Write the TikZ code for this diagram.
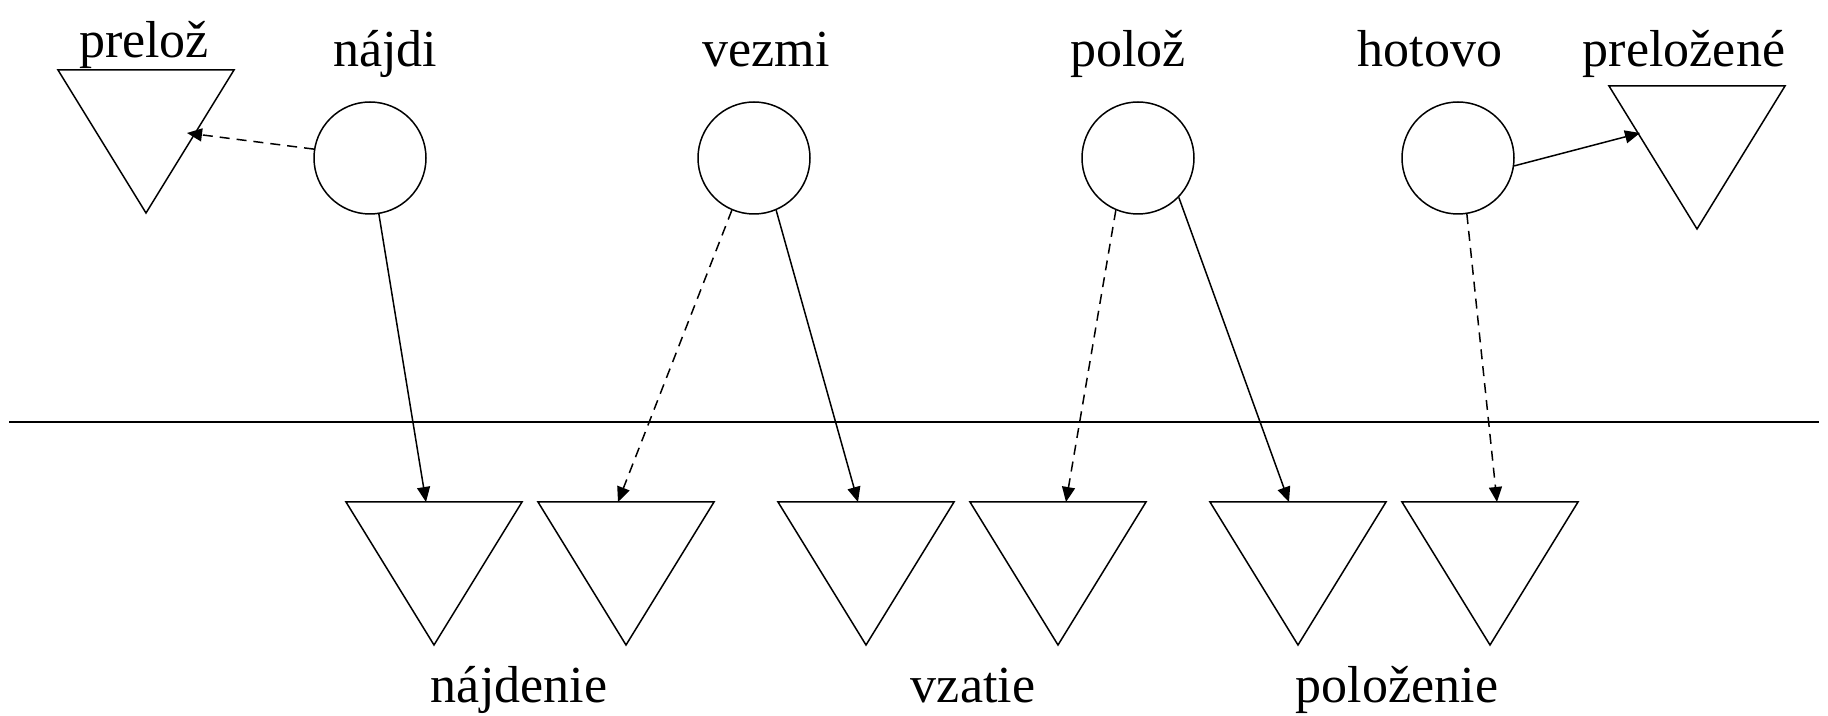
\documentclass[tikz,border=0pt]{standalone}
\usepackage{fontspec}
\setmainfont{Liberation Serif}
\usetikzlibrary{arrows.meta}
\tikzset{
  stnode/.style={circle, draw, line width=0.75pt, minimum size=56pt, inner sep=0pt},
  lbl/.style={anchor=base, inner sep=0pt, font=\fontsize{26}{30}\selectfont},
  tri/.style={draw, line width=0.75pt, line join=miter},
  arr/.style={line width=0.75pt, -{Triangle[length=7.5pt,width=6.5pt]}},
  dsh/.style={dash pattern=on 5pt off 3.5pt},
  invtri/.pic={\draw[tri] (-88,0) -- (88,0) -- (0,143) -- cycle; \coordinate (-top) at (0,0);}
}
\begin{document}
\begin{tikzpicture}[x=0.5pt,y=-0.5pt]
\useasboundingbox (0,0) rectangle (1828,716);
% circles
\node[stnode] (najdi) at (370,158) {};
\node[stnode] (vezmi) at (754,158) {};
\node[stnode] (poloz) at (1138,158) {};
\node[stnode] (hotovo) at (1458,158) {};
% top labels
\node[lbl] (lpreloz) at (144,58) {prelož};
\node[lbl] (lnajdi) at (385,67) {nájdi};
\node[lbl] (lvezmi) at (766,67) {vezmi};
\node[lbl] (lpoloz) at (1128,67) {polož};
\node[lbl] (lhotovo) at (1430,67) {hotovo};
\node[lbl] (lprelozene) at (1684,67) {preložené};
% triangles
\pic (preloz) at (146,70) {invtri};
\pic (prelozene) at (1697,86) {invtri};
\pic (t1) at (434,502) {invtri};
\pic (t2) at (626,502) {invtri};
\pic (t3) at (866,502) {invtri};
\pic (t4) at (1058,502) {invtri};
\pic (t5) at (1298,502) {invtri};
\pic (t6) at (1490,502) {invtri};
% separator line
\coordinate (lineL) at (9,422);
\coordinate (lineR) at (1819,422);
\draw[line width=0.75pt] (lineL) -- (lineR);
% bottom labels
\node[lbl] (lnajdenie) at (519,703) {nájdenie};
\node[lbl] (lvzatie) at (973,703) {vzatie};
\node[lbl] (lpolozenie) at (1397,703) {položenie};
% arrow end points
\coordinate (prelozin) at (187,133);
\coordinate (prelozenein) at (1640,133);
\coordinate (t1in) at (426,502);
\coordinate (t2in) at (618,502);
\coordinate (t3in) at (858,502);
\coordinate (t4in) at (1066,502);
\coordinate (t5in) at (1289,502);
\coordinate (t6in) at (1497,502);
% arrows
\draw[arr,dsh] (najdi.171.7) -- (prelozin);
\draw[arr] (najdi.-81.7) -- (t1in);
\draw[arr,dsh] (vezmi.-113.6) -- (t2in);
\draw[arr] (vezmi.-67.3) -- (t3in);
\draw[arr,dsh] (poloz.-113.6) -- (t4in);
\draw[arr] (poloz.-44.3) -- (t5in);
\draw[arr] (hotovo.-8.1) -- (prelozenein);
\draw[arr,dsh] (hotovo.-81.7) -- (t6in);
\end{tikzpicture}
\end{document}
